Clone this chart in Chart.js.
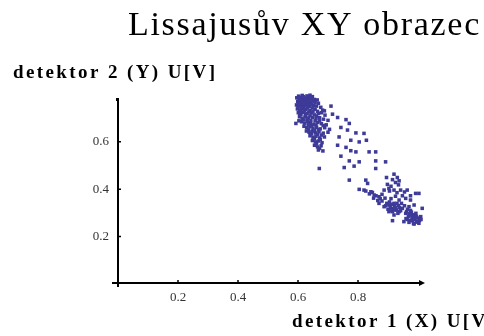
<!DOCTYPE html>
<html>
<head>
<meta charset="utf-8">
<script src="https://cdn.jsdelivr.net/npm/chart.js@4.4.0/dist/chart.umd.min.js"></script>
<style>
  html, body { margin: 0; padding: 0; background: #fff; }
  canvas { display: block; }
</style>
</head>
<body>
<canvas id="lissajous" width="484" height="336"></canvas>
<script>
// popisky grafu
const chartTitle = "Lissajusův XY obrazec";
const xAxisTitle = "detektor 1 (X) U[V]";
const yAxisTitle = "detektor 2 (Y) U[V]";

// hodnoty značek na osách
const xTicks = [0.2, 0.4, 0.6, 0.8];
const yTicks = [0.2, 0.4, 0.6];

// rozsah os
const xRange = [0, 1.02];
const yRange = [0, 0.78];

// naměřené body [X, Y] ve voltech
const samples = [
  [0.598,0.797],[0.606,0.799],[0.614,0.795],[0.622,0.798],[0.630,0.793],[0.640,0.796],[0.648,0.790],
  [0.596,0.785],[0.604,0.781],[0.612,0.787],[0.619,0.779],[0.627,0.784],[0.636,0.780],[0.645,0.783],[0.655,0.778],[0.664,0.776],
  [0.599,0.770],[0.608,0.766],[0.616,0.772],[0.624,0.764],[0.633,0.769],[0.642,0.765],[0.650,0.771],[0.668,0.762],
  [0.595,0.755],[0.603,0.751],[0.611,0.757],[0.620,0.749],[0.629,0.754],[0.638,0.748],[0.652,0.752],[0.676,0.745],
  [0.598,0.738],[0.606,0.733],[0.615,0.740],[0.626,0.736],[0.640,0.731],[0.657,0.737],[0.665,0.728],[0.682,0.733],
  [0.601,0.722],[0.610,0.716],[0.619,0.724],[0.630,0.718],[0.645,0.721],[0.655,0.713],[0.668,0.719],[0.690,0.712],
  [0.605,0.705],[0.614,0.699],[0.624,0.706],[0.634,0.700],[0.648,0.703],[0.660,0.697],[0.672,0.701],[0.685,0.695],[0.700,0.690],
  [0.593,0.677],[0.612,0.684],[0.622,0.678],[0.631,0.686],[0.641,0.680],[0.653,0.674],[0.666,0.681],[0.678,0.676],[0.694,0.671],
  [0.620,0.665],[0.629,0.659],[0.640,0.663],[0.650,0.656],[0.662,0.661],[0.674,0.654],[0.689,0.659],[0.705,0.652],
  [0.628,0.645],[0.637,0.640],[0.647,0.644],[0.658,0.637],[0.670,0.642],[0.684,0.636],[0.700,0.640],
  [0.640,0.625],[0.650,0.619],[0.660,0.623],[0.672,0.616],[0.688,0.620],
  [0.648,0.605],[0.658,0.599],[0.668,0.603],[0.680,0.596],
  [0.655,0.585],[0.665,0.578],[0.677,0.583],
  [0.668,0.565],[0.683,0.561],
  [0.602,0.792],[0.618,0.790],[0.634,0.788],[0.609,0.775],[0.626,0.776],[0.640,0.773],[0.657,0.765],[0.601,0.762],
  [0.618,0.760],[0.634,0.760],[0.646,0.757],[0.662,0.750],[0.600,0.745],[0.612,0.745],[0.632,0.742],[0.648,0.742],
  [0.610,0.728],[0.622,0.731],[0.636,0.725],[0.650,0.728],[0.678,0.722],[0.606,0.712],[0.625,0.713],[0.640,0.709],
  [0.662,0.708],[0.618,0.692],[0.630,0.694],[0.643,0.690],[0.657,0.688],[0.672,0.688],[0.603,0.688],[0.634,0.672],
  [0.646,0.668],[0.660,0.670],[0.684,0.668],[0.635,0.652],[0.655,0.648],[0.668,0.650],[0.645,0.633],[0.665,0.631],
  [0.678,0.628],[0.655,0.612],[0.674,0.610],[0.662,0.592],[0.672,0.572],
  [0.710,0.750],[0.688,0.730],[0.715,0.716],[0.732,0.702],[0.760,0.693],[0.771,0.677],[0.743,0.660],[0.765,0.649],
  [0.793,0.637],[0.820,0.635],[0.828,0.606],[0.804,0.599],[0.776,0.606],[0.737,0.620],[0.732,0.585],[0.760,0.576],
  [0.776,0.562],[0.793,0.557],[0.837,0.557],[0.859,0.557],[0.743,0.539],[0.771,0.519],[0.804,0.515],[0.859,0.519],
  [0.892,0.515],[0.671,0.487],[0.754,0.491],[0.787,0.497],[0.859,0.487],[0.771,0.438],[0.826,0.438],[0.832,0.424],
  [0.895,0.449],[0.920,0.463],[0.931,0.449],[0.937,0.435],
  [0.804,0.399],[0.820,0.396],[0.843,0.389],[0.854,0.375],[0.870,0.368],[0.887,0.396],[0.903,0.403],[0.920,0.396],
  [0.942,0.396],[0.964,0.396],[0.992,0.382],[1.003,0.382],
  [0.870,0.340],[0.887,0.326],[0.903,0.333],[0.920,0.340],[0.937,0.354],[0.959,0.361],[0.975,0.354],[0.987,0.333],
  [0.970,0.326],[0.948,0.319],[0.926,0.312],[0.903,0.305],[0.920,0.291],[0.937,0.305],[0.959,0.298],[0.975,0.291],
  [0.992,0.284],[1.009,0.284],[1.014,0.319],[0.998,0.263],[0.981,0.267],[0.964,0.272],[0.953,0.263],[0.915,0.267],
  [1.003,0.256],[0.987,0.253],
  [0.896,0.340],[0.905,0.346],[0.912,0.336],[0.922,0.329],[0.930,0.340],[0.918,0.318],[0.908,0.322],[0.928,0.312],
  [0.938,0.322],[0.942,0.309],[0.915,0.305],[0.933,0.298],
  [0.962,0.305],[0.970,0.296],[0.978,0.303],[0.985,0.292],[0.993,0.298],[0.968,0.285],[0.980,0.279],[0.990,0.272],
  [1.000,0.278],[0.975,0.268],[0.995,0.261],[1.005,0.268],[0.985,0.255],[0.960,0.276],
  [0.892,0.330],[0.900,0.315],[0.910,0.310],[0.925,0.322],[0.935,0.330],[0.945,0.340],[0.955,0.330],[0.965,0.315],
  [0.975,0.310],[0.983,0.285],[0.995,0.285],[1.010,0.272],[0.970,0.260],[0.880,0.350],[0.890,0.362],[0.910,0.360],
  [0.925,0.370],
  [0.826,0.392],[0.838,0.380],[0.848,0.386],[0.860,0.372],[0.874,0.360],[0.880,0.378],[0.866,0.352],[0.852,0.362],
  [0.898,0.420],[0.910,0.412],[0.925,0.428],[0.935,0.418],[0.915,0.440],[0.905,0.392],[0.930,0.385],[0.948,0.372],
  [0.955,0.388],[0.975,0.372]
];

const serif = "'Liberation Serif', 'DejaVu Serif', serif";

// osy, šipka a popisky kreslíme sami
const axesPlugin = {
  id: "osy",
  beforeDatasetsDraw(chart) {
    const { ctx, scales: { x, y } } = chart;
    const x0 = x.getPixelForValue(0);
    const y0 = y.getPixelForValue(0);
    const xEnd = x.getPixelForValue(x.max);
    const yTop = y.getPixelForValue(y.max);

    ctx.save();
    ctx.strokeStyle = "#000";
    ctx.fillStyle = "#000";
    ctx.lineWidth = 2;
    ctx.beginPath();
    ctx.moveTo(x0 - 6, y0 - 1);
    ctx.lineTo(xEnd - 3, y0 - 1);
    ctx.moveTo(x0, yTop);
    ctx.lineTo(x0, y0 + 3);
    ctx.stroke();

    // šipka na konci osy X
    ctx.beginPath();
    ctx.moveTo(xEnd + 1, y0 - 1);
    ctx.lineTo(xEnd - 5, y0 - 4);
    ctx.lineTo(xEnd - 5, y0 + 2);
    ctx.closePath();
    ctx.fill();

    // tečka na vrcholu osy Y
    ctx.fillRect(x0 - 2, yTop - 1, 3, 3);

    // drobné značky
    ctx.lineWidth = 1.5;
    ctx.beginPath();
    xTicks.forEach((v) => {
      const px = x.getPixelForValue(v);
      ctx.moveTo(px, y0 - 1);
      ctx.lineTo(px, y0 - 4);
    });
    yTicks.forEach((v) => {
      const py = y.getPixelForValue(v);
      ctx.moveTo(x0, py);
      ctx.lineTo(x0 + 3, py);
    });
    ctx.stroke();
    ctx.restore();
  },
  afterDraw(chart) {
    const { ctx } = chart;
    ctx.save();
    ctx.fillStyle = "#000";
    ctx.textAlign = "left";
    ctx.textBaseline = "alphabetic";

    ctx.font = `34px ${serif}`;
    ctx.letterSpacing = "1.7px";
    ctx.fillText(chartTitle, 128, 35);

    ctx.font = `bold 19px ${serif}`;
    ctx.letterSpacing = "2.4px";
    ctx.fillText(yAxisTitle, 13, 78);
    ctx.fillText(xAxisTitle, 292, 327);
    ctx.restore();
  },
};

const tickFont = { family: serif, size: 13 };

new Chart(document.getElementById("lissajous"), {
  type: "scatter",
  data: {
    datasets: [
      {
        data: samples,
        pointStyle: "rect",
        pointRadius: 2.5,
        borderWidth: 0,
        backgroundColor: "#3d3a98",
        borderColor: "#3d3a98",
        clip: false,
      },
    ],
  },
  options: {
    responsive: false,
    animation: false,
    events: [],
    layout: {
      padding: { left: 88, top: 99, right: 60, bottom: 32 },
    },
    plugins: {
      legend: { display: false },
      tooltip: { enabled: false },
    },
    scales: {
      x: {
        type: "linear",
        min: xRange[0],
        max: xRange[1],
        grid: { display: false, drawTicks: false },
        border: { display: false },
        afterBuildTicks: (s) => {
          s.ticks = xTicks.map((v) => ({ value: v }));
        },
        afterFit: (s) => {
          s.height = 20;
        },
        ticks: {
          autoSkip: false,
          maxRotation: 0,
          padding: 6,
          color: "#333",
          font: tickFont,
          callback: (v) => v.toFixed(1),
        },
      },
      y: {
        type: "linear",
        min: yRange[0],
        max: yRange[1],
        grid: { display: false, drawTicks: false },
        border: { display: false },
        afterBuildTicks: (s) => {
          s.ticks = yTicks.map((v) => ({ value: v }));
        },
        afterFit: (s) => {
          s.width = 30;
        },
        ticks: {
          autoSkip: false,
          padding: 9,
          color: "#333",
          font: tickFont,
          callback: (v) => v.toFixed(1),
        },
      },
    },
  },
  plugins: [axesPlugin],
});
</script>
</body>
</html>
